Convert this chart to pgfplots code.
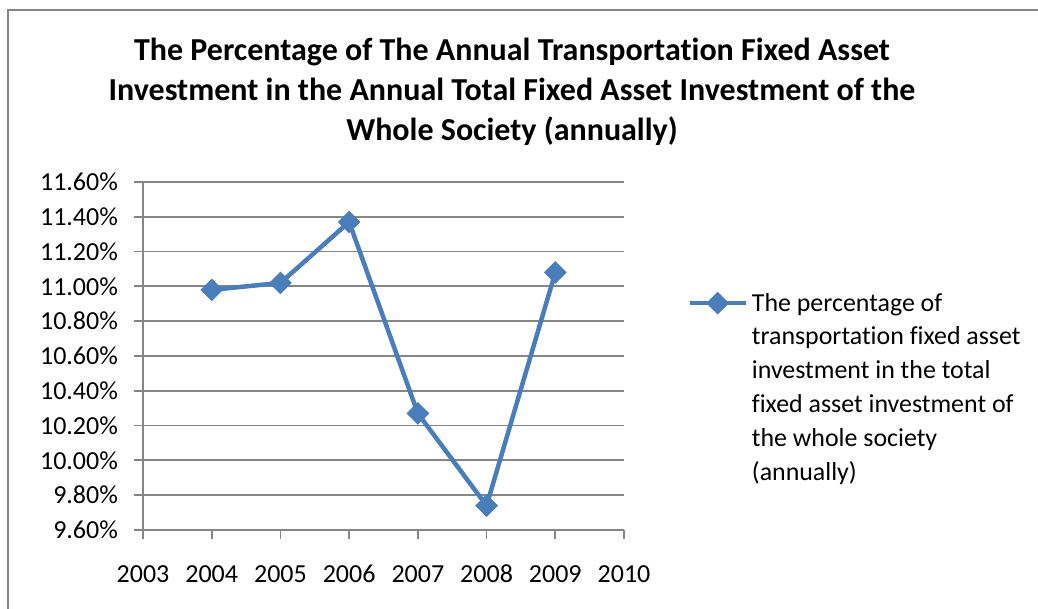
\documentclass[border=0pt]{standalone}
\usepackage{pgfplots}
\pgfplotsset{compat=1.18}
\usepackage{fontspec}
\setmainfont{Carlito}[Ligatures=NoCommon]
\definecolor{lineblue}{RGB}{74,126,187}
\definecolor{gridgray}{RGB}{134,134,134}
\begin{document}
\begin{tikzpicture}
\useasboundingbox (0,0) rectangle (519pt,304.5pt);
\draw[gridgray, line width=1pt] (4pt,-20pt) rectangle (540pt,299.5pt);
\node[font=\fontsize{16}{20}\selectfont\bfseries, align=center] at (256pt,258.5pt) {The Percentage of The Annual Transportation Fixed Asset\\ Investment in the Annual Total Fixed Asset Investment of the\\ Whole Society (annually)};
\begin{axis}[
  at={(71.5pt,39.5pt)}, anchor=south west,
  scale only axis, width=240.5pt, height=174pt,
  xmin=2003, xmax=2010, ymin=9.6, ymax=11.6,
  xtick={2003,2004,2005,2006,2007,2008,2009,2010},
  ytick={9.6,9.8,10.0,10.2,10.4,10.6,10.8,11.0,11.2,11.4,11.6},
  axis x line*=bottom, axis y line*=left,
  axis line style={gridgray, line width=0.9pt, -},
  ymajorgrids, grid style={gridgray, line width=0.9pt},
  tick align=outside, major tick length=4.5pt,
  tick style={gridgray, line width=0.9pt},
  ticklabel style={font=\fontsize{13}{15}\selectfont, text=black},
  /pgf/number format/assume math mode=true,
  x tick label style={/pgf/number format/1000 sep={}, anchor=base, yshift=-22pt},
  y tick label style={anchor=east, xshift=-4.5pt},
  yticklabel={\pgfmathprintnumber[fixed,fixed zerofill,precision=2]{\tick}\%},
  legend style={at={(1.131,0.7095)}, anchor=north west, draw=none, fill=none,
    inner sep=0pt, cells={anchor=base west}, nodes={inner xsep=2pt},
    font=\fontsize{12.95}{16.9}\selectfont},
  legend image code/.code={\draw[#1, mark repeat=2, mark phase=2] plot coordinates {(0pt,4pt)(14pt,4pt)(28pt,4pt)};},
]
\addplot[lineblue, line width=2.25pt, mark=square*, mark size=3.8pt,
  mark options={solid, fill=lineblue, rotate=45, line width=0.4pt}]
  coordinates {(2004,10.98)(2005,11.02)(2006,11.37)(2007,10.27)(2008,9.74)(2009,11.08)};
\addlegendentry{\begin{tabular}[t]{@{}l@{}}The percentage of\\transportation fixed asset\\investment in the total\\fixed asset investment of\\the whole society\\(annually)\end{tabular}}
\end{axis}
\end{tikzpicture}
\end{document}
